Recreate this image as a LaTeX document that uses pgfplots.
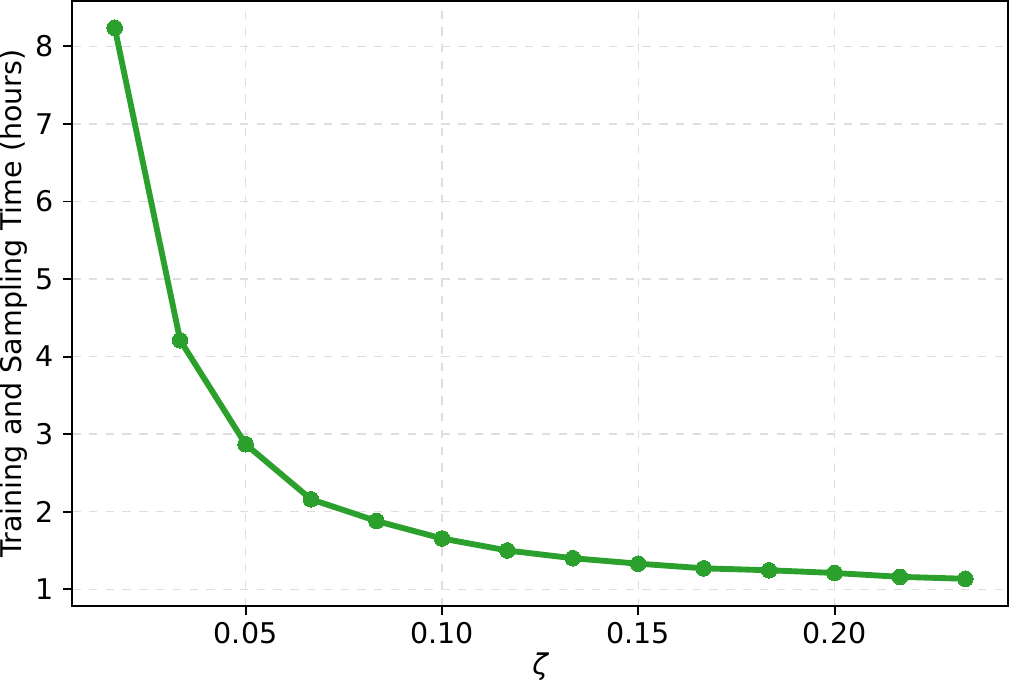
\documentclass[border=0pt]{standalone}
\usepackage{fontspec}
\setmainfont{DejaVu Sans}
\usepackage{pgfplots}
\pgfplotsset{compat=1.18}
\definecolor{tabgreen}{HTML}{2CA02C}
\begin{document}
\begin{tikzpicture}
\begin{axis}[
  scale only axis,
  width=334.8pt, height=216.4pt,
  xmin=0.00583, xmax=0.24417,
  ymin=0.7855, ymax=8.5845,
  xtick={0.05,0.10,0.15,0.20},
  ytick={1,2,3,4,5,6,7,8},
  xticklabel style={yshift=1pt,/pgf/number format/fixed,/pgf/number format/fixed zerofill,/pgf/number format/precision=2},
  /pgf/number format/assume math mode=true,
  scaled x ticks=false,
  tick align=outside, major tick length=3.2pt,
  tick pos=left,
  tick style={black, line width=0.7pt},
  grid=major,
  grid style={dashed, black!13, line width=0.5pt},
  axis line style={line width=0.75pt},
  every tick label/.append style={font=\fontsize{10.2}{12}\selectfont},
  label style={font=\fontsize{10.2}{12}\selectfont},
  xlabel={\itshape ζ},
  xlabel style={yshift=3.5pt},
  ylabel={Training and Sampling Time (hours)},
  ylabel style={inner sep=0pt, yshift=-0.8pt},
]
\addplot[color=tabgreen, line width=2.1pt, mark=*, mark size=2.8pt, mark options={fill=tabgreen, draw=tabgreen, line width=0pt}] coordinates {
  (0.016667,8.24) (0.033333,4.21) (0.05,2.87) (0.066667,2.16)
  (0.083333,1.88) (0.1,1.655) (0.116667,1.50) (0.133333,1.40)
  (0.15,1.33) (0.166667,1.27) (0.183333,1.245) (0.2,1.21)
  (0.216667,1.16) (0.233333,1.135)
};
\end{axis}
\end{tikzpicture}
\end{document}
